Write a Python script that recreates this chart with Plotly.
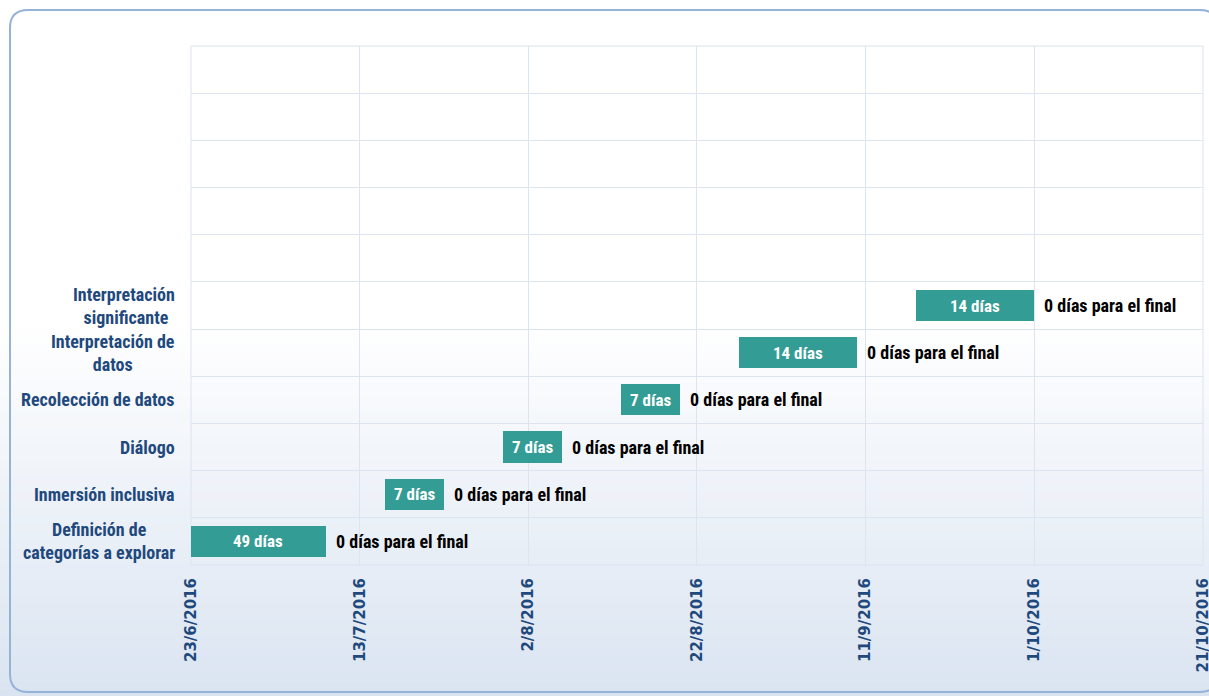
import datetime as dt
import plotly.graph_objects as go

# ---------------- data ----------------
tasks = ["Definición de<br>categorías a explorar", "Inmersión inclusiva", "Diálogo",
         "Recolección de datos", "Interpretación de<br>datos", "Interpretación<br> significante"]
starts = ["2016-05-21", "2016-07-16", "2016-07-30", "2016-08-13", "2016-08-27", "2016-09-17"]
durations = [49, 7, 7, 7, 14, 14]
duration_labels = ["49 días", "7 días", "7 días", "7 días", "14 días", "14 días"]
remaining_labels = ["0 días para el final"] * 6
n_rows = 11  # 6 tasks + 5 empty rows above
axis_start = "2016-06-23"
axis_end = "2016-10-21"
tick_step_days = 20

# ---------------- layout geometry ----------------
W, H = 1209, 696
ML, MT = 191, 46
PW, PH = 1012, 519
MR, MB = W - ML - PW, H - MT - PH

def px2x(px):
    return (px - ML) / PW

def py2y(py):
    return (MT + PH - py) / PH

DAY_MS = 86400000
BAR = "#339C94"
NAVY = "#1F497D"
NARROW = "Liberation Sans Narrow, Roboto Condensed, DejaVu Sans Condensed, sans-serif"

fig = go.Figure()
fig.add_trace(go.Bar(
    y=list(range(len(tasks))),
    x=[d * DAY_MS for d in durations],
    base=starts,
    orientation="h",
    marker=dict(color=BAR, line=dict(width=0)),
    width=0.66,
    hoverinfo="skip",
    showlegend=False,
))

a0 = dt.date.fromisoformat(axis_start)
annotations = []
for i, (s, d) in enumerate(zip(starts, durations)):
    sd = dt.date.fromisoformat(s)
    ed = sd + dt.timedelta(days=d)
    vis0 = max(sd, a0)
    t0 = dt.datetime.combine(vis0, dt.time())
    t1 = dt.datetime.combine(ed, dt.time())
    mid = t0 + (t1 - t0) / 2
    annotations.append(dict(x=mid.strftime("%Y-%m-%d %H:%M:%S"), y=i, xref="x", yref="y",
                            text="<b>%s</b>" % duration_labels[i], showarrow=False,
                            font=dict(family=NARROW, size=17, color="white")))
    annotations.append(dict(x=ed.isoformat(), y=i, xref="x", yref="y", xanchor="left", xshift=8,
                            text="<b>%s</b>" % remaining_labels[i], showarrow=False,
                            font=dict(family=NARROW, size=18, color="black")))
    annotations.append(dict(x=0, y=i, xref="paper", yref="y", xanchor="right", xshift=-14,
                            align="center", text="<b>%s</b>" % tasks[i], showarrow=False,
                            font=dict(family=NARROW, size=18, color=NAVY)))

# background gradient (white -> light blue) using stacked strips
shapes = []
g0, g1 = 320, H
steps = 48
c_top = (255, 255, 255)
c_bot = (218, 228, 241)
for k in range(steps):
    p0 = g0 + (g1 - g0) * k / steps
    p1 = g0 + (g1 - g0) * (k + 1) / steps
    t = (k + 0.5) / steps
    c = tuple(round(c_top[j] + (c_bot[j] - c_top[j]) * t) for j in range(3))
    shapes.append(dict(type="rect", xref="paper", yref="paper", layer="below",
                       x0=px2x(0), x1=px2x(W), y0=py2y(p1 + 0.5), y1=py2y(p0),
                       fillcolor="rgb(%d,%d,%d)" % c, line=dict(width=0)))

grid = "#DCE4EF"
# plot-area outline (grid edges)
shapes.append(dict(type="rect", xref="paper", yref="paper", layer="below",
                   x0=0, x1=1, y0=0, y1=1, line=dict(color=grid, width=1)))

# rounded chart border
bx0, by0, bx1, by1, r = 10, 10, 1218, 692, 18
pts = [
    ("M", bx0 + r, by0), ("L", bx1 - r, by0), ("Q", bx1, by0, bx1, by0 + r),
    ("L", bx1, by1 - r), ("Q", bx1, by1, bx1 - r, by1), ("L", bx0 + r, by1),
    ("Q", bx0, by1, bx0, by1 - r), ("L", bx0, by0 + r), ("Q", bx0, by0, bx0 + r, by0),
]
path = ""
for p in pts:
    cmd, coords = p[0], p[1:]
    xy = []
    for j in range(0, len(coords), 2):
        xy.append("%.5f,%.5f" % (px2x(coords[j]), py2y(coords[j + 1])))
    path += cmd + " ".join(xy) + " "
path += "Z"
shapes.append(dict(type="path", xref="paper", yref="paper", path=path, layer="above",
                   line=dict(color="#95B3D7", width=2)))

fig.update_layout(
    width=W, height=H,
    margin=dict(l=ML, r=MR, t=MT, b=MB, pad=0, autoexpand=False),
    paper_bgcolor="white",
    plot_bgcolor="rgba(0,0,0,0)",
    shapes=shapes,
    annotations=annotations,
    bargap=0,
    xaxis=dict(
        type="date", range=[axis_start, axis_end + " 00:20"],
        tick0=axis_start, dtick=tick_step_days * DAY_MS,
        tickformat="%-d/%-m/%Y", tickangle=-90,
        showgrid=True, gridcolor=grid, gridwidth=1,
        ticks="outside", ticklen=6, tickcolor="rgba(0,0,0,0)",
        tickfont=dict(family="DejaVu Sans", size=15, color=NAVY, weight="bold"),
        ticklabeloverflow="allow",
        showline=False, zeroline=False, automargin=False,
    ),
    yaxis=dict(
        range=[-0.5, n_rows - 0.5],
        tickvals=[i - 0.5 for i in range(n_rows + 1)],
        showticklabels=False, showgrid=True, gridcolor=grid, gridwidth=1,
        zeroline=False, showline=False, fixedrange=True, automargin=False,
    ),
)

fig.write_html(
    "out.html",
    config={"displayModeBar": False},
    post_script="document.body.style.margin='0px';document.body.style.overflow='hidden';",
)
